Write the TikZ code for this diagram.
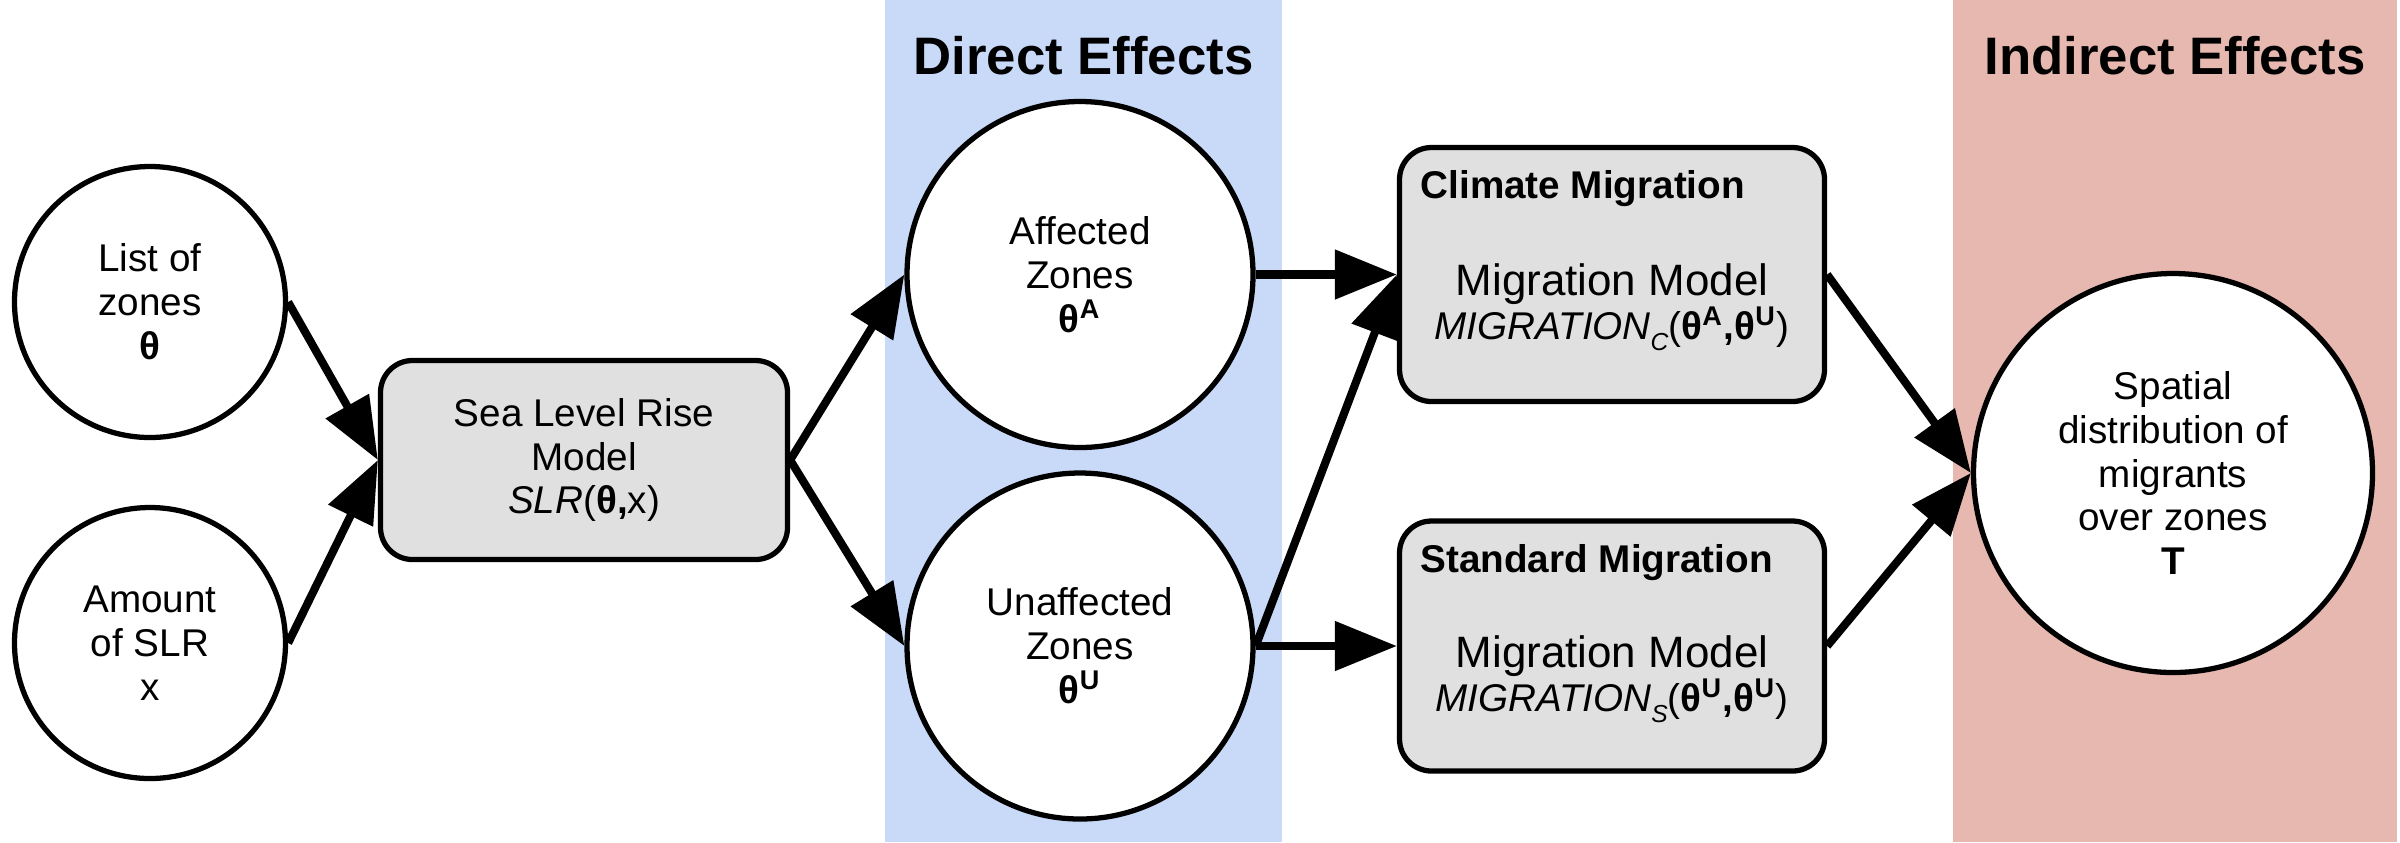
\documentclass[tikz,border=0pt]{standalone}
\usepackage{fontspec}
\setmainfont{Liberation Sans}
\usetikzlibrary{arrows.meta,positioning}
\definecolor{directblue}{HTML}{C9DAF8}
\definecolor{indirectred}{HTML}{E6B8AF}
\definecolor{modelgray}{HTML}{E0E0E0}
\newcommand{\lowsub}[1]{\raisebox{-0.55ex}{\scriptsize\textit{#1}}}
\begin{document}
\begin{tikzpicture}[
		font=\fontsize{11}{12.5}\selectfont,
		zone/.style={circle,draw,line width=1.5pt,fill=white,align=center,inner sep=0pt},
		model/.style={rectangle,rounded corners=0.32cm,draw,line width=1.5pt,fill=modelgray,align=center},
		flow/.style={line width=2.3pt,-{Triangle[length=6.2mm,width=4.8mm]}},
		bandtitle/.style={font=\fontsize{15}{18}\selectfont\bfseries},
		modeltitle/.style={font=\fontsize{11}{12.5}\selectfont\bfseries,anchor=base west,inner sep=0pt}]
		\useasboundingbox (0,0) rectangle (24,-8.42);
		% Effekt-felt
		\fill[directblue] (8.85,0) rectangle (12.82,-8.42);
		\fill[indirectred] (19.53,0) rectangle (23.97,-8.42);
		\node[bandtitle] (direct) at (10.835,-0.56) {Direct Effects};
		\node[bandtitle] (indirect) at (21.75,-0.56) {Indirect Effects};
		% Input og SLR-modell
		\node[zone,minimum size=2.71cm] (list) at (1.50,-3.02) {List of\\zones\\\textbf{θ}};
		\node[zone,minimum size=2.71cm] (amount) at (1.50,-6.43) {Amount\\of SLR\\x};
		\node[model,minimum width=4.07cm,minimum height=1.99cm] (slr) at (5.84,-4.60) {Sea Level Rise\\Model\\\textit{SLR}(\textbf{θ,}x)};
		% Direkte effekter
		\node[zone,minimum size=3.46cm] (affected) at (10.80,-2.745) {Affected\\Zones\\\textbf{θ\textsuperscript{A}}};
		\node[zone,minimum size=3.46cm] (unaffected) at (10.80,-6.46) {Unaffected\\Zones\\\textbf{θ\textsuperscript{U}}};
		% Migrasjonsmodeller
		\node[model,minimum width=4.25cm,minimum height=2.54cm] (climate) at (16.12,-2.745) {};
		\node[model,minimum width=4.25cm,minimum height=2.50cm] (standard) at (16.12,-6.46) {};
		\node[modeltitle] (climatetitle) at ([shift={(0.23,-0.54)}]climate.north west) {Climate Migration};
		\node[modeltitle] (standardtitle) at ([shift={(0.23,-0.54)}]standard.north west) {Standard Migration};
		\node[align=center] (climatebody) at ([yshift=-0.33cm]climate.center) {{\fontsize{12.5}{14}\selectfont Migration Model}\\\textit{MIGRATION}\lowsub{C}(\textbf{θ\textsuperscript{A},θ\textsuperscript{U}})};
		\node[align=center] (standardbody) at ([yshift=-0.33cm]standard.center) {{\fontsize{12.5}{14}\selectfont Migration Model}\\\textit{MIGRATION}\lowsub{S}(\textbf{θ\textsuperscript{U},θ\textsuperscript{U}})};
		% Indirekte effekter
		\node[zone,minimum size=3.99cm] (spatial) at (21.73,-4.73) {Spatial\\distribution of\\migrants\\over zones\\\textbf{T}};
		% Piler
		\draw[flow] (list.east) -- (slr.west);
		\draw[flow] (amount.east) -- (slr.west);
		\draw[flow] (slr.east) -- (affected.west);
		\draw[flow] (slr.east) -- (unaffected.west);
		\draw[flow] (affected.east) -- (climate.west);
		\draw[flow] (unaffected.east) -- (climate.west);
		\draw[flow] (unaffected.east) -- (standard.west);
		\draw[flow] (climate.east) -- (spatial.west);
		\draw[flow] (standard.east) -- (spatial.west);
	\end{tikzpicture}
\end{document}
